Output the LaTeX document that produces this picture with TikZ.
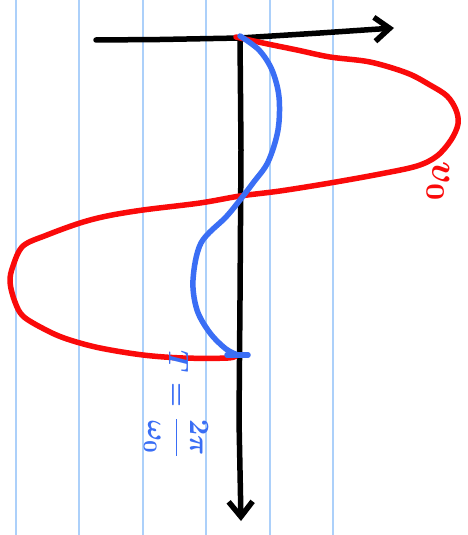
\documentclass[tikz,border=0pt]{standalone}
\usetikzlibrary{arrows.meta}
\definecolor{penred}{RGB}{250,10,10}
\definecolor{penblue}{RGB}{58,110,245}
\definecolor{ruleblue}{RGB}{172,208,250}
\begin{document}
\begin{tikzpicture}[x=1pt,y=-1pt,
  ruled/.style={draw=ruleblue,line width=2pt},
  axis/.style={draw=black,line width=5.5pt,line cap=round,line join=round},
  redpen/.style={draw=penred,line width=5.5pt,line cap=round,line join=round},
  bluepen/.style={draw=penblue,line width=5.5pt,line cap=round,line join=round},
  tip/.style={-{Straight Barb[length=15pt,width=24pt,line width=5.5pt]}},
  bluelab/.style={text=penblue,font=\boldmath,inner sep=0pt,scale=2.8},
  redlab/.style={text=penred,font=\boldmath,inner sep=0pt,scale=3.8}]
\useasboundingbox (0,0) rectangle (467,535);
\fill[white] (0,0) rectangle (467,535);
\foreach \x in {16,79,143,206,270,333} \draw[ruled] (\x,0) -- (\x,535);
% axes
\coordinate (O) at (240,38);
\coordinate (xend) at (394,28);
\coordinate (yend) at (241,521);
\draw[axis,tip] (96,40) -- (160,39.5) -- (O) -- (320,33) -- (xend);
\draw[axis,tip] (O) -- (241,150) -- (240,300) -- (239,420) -- (yend);
% red curve
\draw[redpen] plot[smooth,tension=0.55] coordinates {
 (236,37) (263,43) (297,50) (330,57) (370,62) (407,73) (430,85) (447,96)
 (456,110) (458,124) (451,140) (437,156) (417,166) (380,174) (330,183)
 (280,191) (240,196) (200,203) (143,210) (107,216) (80,223) (47,235)
 (23,246) (13,266) (10,282) (15,302) (24,317) (50,332) (70,340) (100,348)
 (143,355) (183,358) (228,358) (237,355)};
% blue curve
\draw[bluepen] plot[smooth,tension=0.55] coordinates {
 (240,36) (259,50) (272,70) (279,97) (278,130) (268,162) (253,183)
 (240,200) (226,217) (201,243) (193,280) (197,310) (210,333) (226,349) (238,355)};
\draw[bluepen] (227,355) -- (248,355);
% labels
\node[bluelab,rotate=-90] (T) at (176,405) {$T=\displaystyle\frac{2\pi}{\omega_0}$};
\node[redlab,rotate=-90] (v) at (438,182) {$v_0$};
\end{tikzpicture}
\end{document}
